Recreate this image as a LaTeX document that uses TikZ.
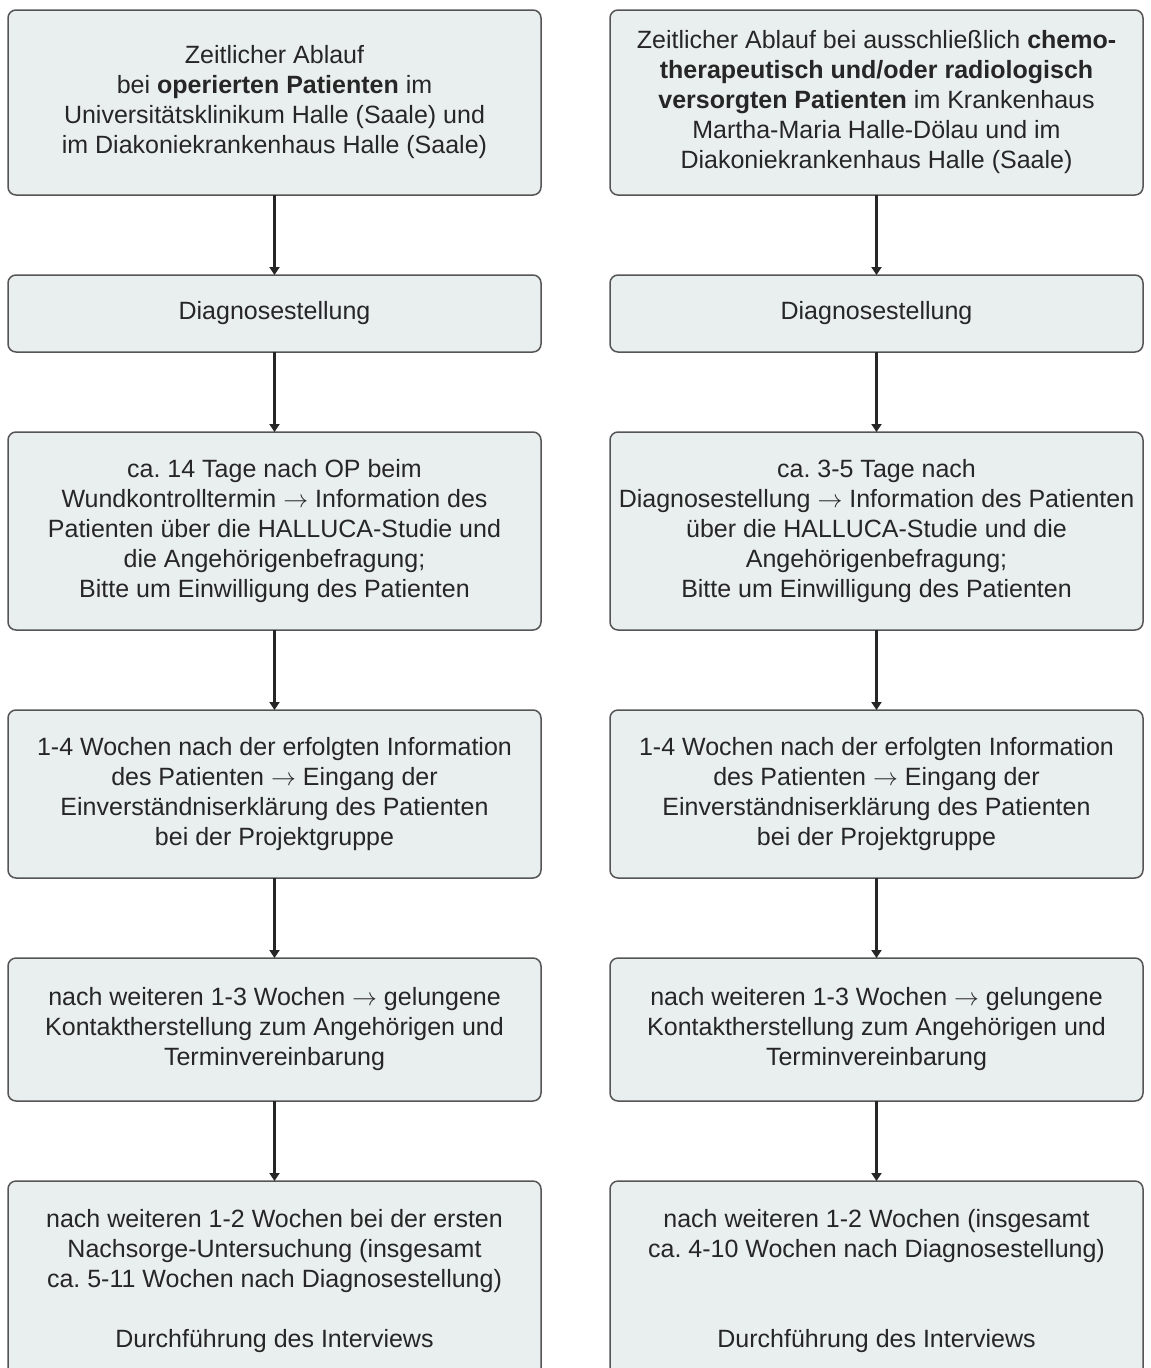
\documentclass[tikz,border=0pt]{standalone}
\usepackage{fontspec}
\setmainfont{Liberation Sans}
\usetikzlibrary{arrows.meta, positioning}
\definecolor{BoxFill}{HTML}{E9EFEE}
\definecolor{BoxLine}{HTML}{555555}
\definecolor{TextGray}{HTML}{262626}
\newcommand{\goesto}{\ensuremath{\rightarrow}}
\frenchspacing

\begin{document}
\begin{tikzpicture}[
      x=1pt, y=1pt,
      node distance=80pt and 69pt,
      stage/.style={rectangle, rounded corners=8pt, draw=BoxLine, line width=1.5pt, fill=BoxFill, minimum width=533pt, inner xsep=0pt, outer sep=0pt, align=center, text=TextGray, font=\fontsize{25}{30}\selectfont},
      arrow/.style={-{Triangle[length=8pt, width=10pt]}, line width=2.2pt, black!85},
  ]
  \useasboundingbox (0,0) rectangle (1151,-1368);

  % Left column: operated patients
  \node[stage, minimum height=185pt] (l1) at (274.5,-102.5) {Zeitlicher Ablauf\\bei \textbf{operierten Patienten} im\\Universitätsklinikum Halle (Saale) und\\im Diakoniekrankenhaus Halle (Saale)};
  \node[stage, minimum height=77pt, below=of l1] (l2) {Diagnosestellung};
  \node[stage, minimum height=198pt, below=of l2] (l3) {ca. 14 Tage nach OP beim\\Wundkontrolltermin \goesto{} Information des\\Patienten über die HALLUCA-Studie und\\die Angehörigenbefragung;\\Bitte um Einwilligung des Patienten};
  \node[stage, minimum height=168pt, below=of l3] (l4) {1-4 Wochen nach der erfolgten Information\\des Patienten \goesto{} Eingang der\\Einverständniserklärung des Patienten\\bei der Projektgruppe};
  \node[stage, minimum height=143pt, below=of l4] (l5) {nach weiteren 1-3 Wochen \goesto{} gelungene\\Kontaktherstellung zum Angehörigen und\\Terminvereinbarung};
  \node[stage, minimum height=200pt, below=of l5] (l6) {nach weiteren 1-2 Wochen bei der ersten\\Nachsorge-Untersuchung (insgesamt\\ca. 5-11 Wochen nach Diagnosestellung)\\[30pt]Durchführung des Interviews};

  % Right column: chemo / radiology patients
  \node[stage, minimum height=185pt, right=of l1] (r1) {Zeitlicher Ablauf bei ausschließlich \textbf{chemo-}\\\textbf{therapeutisch und/oder radiologisch}\\\textbf{versorgten Patienten} im Krankenhaus\\Martha-Maria Halle-Dölau und im\\Diakoniekrankenhaus Halle (Saale)};
  \node[stage, minimum height=77pt, below=of r1] (r2) {Diagnosestellung};
  \node[stage, minimum height=198pt, below=of r2] (r3) {ca. 3-5 Tage nach\\Diagnosestellung \goesto{} Information des Patienten\\über die HALLUCA-Studie und die\\Angehörigenbefragung;\\Bitte um Einwilligung des Patienten};
  \node[stage, minimum height=168pt, below=of r3] (r4) {1-4 Wochen nach der erfolgten Information\\des Patienten \goesto{} Eingang der\\Einverständniserklärung des Patienten\\bei der Projektgruppe};
  \node[stage, minimum height=143pt, below=of r4] (r5) {nach weiteren 1-3 Wochen \goesto{} gelungene\\Kontaktherstellung zum Angehörigen und\\Terminvereinbarung};
  \node[stage, minimum height=200pt, below=of r5] (r6) {nach weiteren 1-2 Wochen (insgesamt\\ca. 4-10 Wochen nach Diagnosestellung)\\[60pt]Durchführung des Interviews};

  % Arrows
  \foreach \i/\j in {1/2, 2/3, 3/4, 4/5, 5/6} {
    \draw[arrow] (l\i) -- (l\j);
    \draw[arrow] (r\i) -- (r\j);
  }

\end{tikzpicture}
\end{document}
